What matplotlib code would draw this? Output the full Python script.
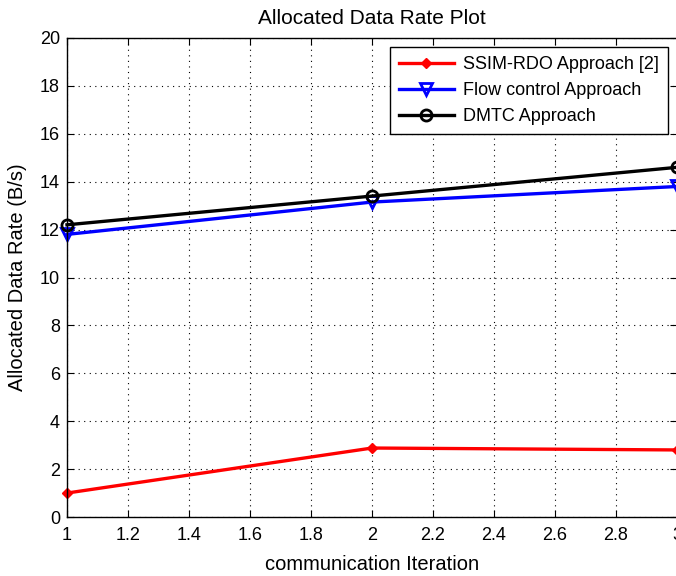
import matplotlib
matplotlib.use("Agg")
import matplotlib.pyplot as plt

plt.rcParams['font.family'] = ['Liberation Sans', 'DejaVu Sans']

iterations = [1, 2, 3]
ssim_rdo = [1.0, 2.88, 2.8]
flow_control = [11.8, 13.15, 13.8]
dmtc = [12.2, 13.4, 14.6]

xticks = [1, 1.2, 1.4, 1.6, 1.8, 2, 2.2, 2.4, 2.6, 2.8, 3]
xticklabels = ['1', '1.2', '1.4', '1.6', '1.8', '2', '2.2', '2.4', '2.6', '2.8', '3']
yticks = list(range(0, 21, 2))

fig = plt.figure(figsize=(6.76, 5.76), dpi=100)
ax = fig.add_axes([67 / 676, 59 / 576, 610 / 676, 479 / 576])

ax.plot(iterations, ssim_rdo, color='red', lw=2.4, marker='D', ms=5,
        mfc='red', mec='red', label='SSIM-RDO Approach [2]', clip_on=False)
ax.plot(iterations, flow_control, color='blue', lw=2.4, marker='v', ms=9,
        mfc='none', mec='blue', mew=2, label='Flow control Approach', clip_on=False)
ax.plot(iterations, dmtc, color='black', lw=2.4, marker='o', ms=8,
        mfc='none', mec='black', mew=2, label='DMTC Approach', clip_on=False)

ax.set_xlim(1, 3)
ax.set_ylim(0, 20)
ax.set_xticks(xticks)
ax.set_xticklabels(xticklabels)
ax.set_yticks(yticks)
ax.tick_params(direction='in', labelsize=13, length=5, top=True, right=True)
ax.tick_params(axis='x', pad=7)
ax.tick_params(axis='y', pad=5)
ax.grid(True, color='black', linestyle=(0, (1, 4)), linewidth=0.8)
for s in ax.spines.values():
    s.set_linewidth(1.0)

ax.set_xlabel('communication Iteration', fontsize=14.5, labelpad=8)
ax.set_ylabel('Allocated Data Rate (B/s)', fontsize=14.5, labelpad=9)
ax.set_title('Allocated Data Rate Plot', fontsize=15, pad=10)

leg = ax.legend(loc='upper right', bbox_to_anchor=(0.985, 0.981), fontsize=13,
                fancybox=False, edgecolor='black', framealpha=1,
                handlelength=3.05, handletextpad=0.5, borderpad=0.5,
                labelspacing=0.5, borderaxespad=0)
leg.get_frame().set_linewidth(1.0)

fig.savefig('out.png', dpi=100)
